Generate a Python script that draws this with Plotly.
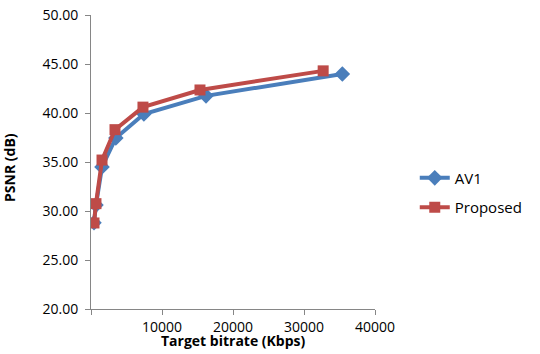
import plotly.graph_objects as go

av1_x = [420, 700, 1550, 3500, 7450, 16200, 35400]
av1_y = [28.8, 30.6, 34.5, 37.45, 39.9, 41.75, 43.98]
prop_x = [420, 700, 1550, 3380, 7320, 15350, 32700]
prop_y = [28.78, 30.75, 35.2, 38.3, 40.6, 42.35, 44.3]

x_ticks = [0, 10000, 20000, 30000, 40000]
x_ticktext = ["", "10000", "20000", "30000", "40000"]
y_ticks = [20, 25, 30, 35, 40, 45, 50]

FONT = "Open Sans"
fig = go.Figure()
fig.add_trace(go.Scatter(x=av1_x, y=av1_y, name="AV1", mode="lines+markers", legendgroup="a",
                         line=dict(color="#4A7EBB", width=4),
                         marker=dict(symbol="diamond", size=12, color="#4A7EBB")))
fig.add_trace(go.Scatter(x=prop_x, y=prop_y, name="Proposed", mode="lines+markers", legendgroup="b",
                         line=dict(color="#BE4B48", width=4),
                         marker=dict(symbol="square", size=11, color="#BE4B48")))

fig.update_layout(
    template="none",
    width=540, height=354,
    margin=dict(l=91, r=165, t=15, b=45, autoexpand=False),
    paper_bgcolor="white", plot_bgcolor="white",
    font=dict(family=FONT, size=14, color="#000000"),
    showlegend=True,
    legend=dict(x=1.14, y=0.396, xanchor="left", yanchor="middle",
                font=dict(family=FONT, size=15), tracegroupgap=7,
                bgcolor="rgba(0,0,0,0)", borderwidth=0),
    xaxis=dict(range=[0, 40000], tickvals=x_ticks, ticktext=x_ticktext, automargin=False,
               showgrid=False, zeroline=False, showline=True, linecolor="#868686", linewidth=1,
               ticks="outside", ticklen=5, tickcolor="#868686", tickwidth=1,
               tickfont=dict(family=FONT, size=14)),
    yaxis=dict(range=[20, 50], tickvals=y_ticks, tickformat=".2f", automargin=False,
               showgrid=False, zeroline=False, showline=True, linecolor="#868686", linewidth=1,
               ticks="outside", ticklen=5, tickcolor="#868686", tickwidth=1,
               ticklabelstandoff=4,
               tickfont=dict(family=FONT, size=14)),
    annotations=[
        dict(text="<b>Target bitrate (Kbps)</b>", xref="paper", yref="paper",
             x=0.5, y=-0.108, xanchor="center", yanchor="middle", showarrow=False,
             font=dict(family=FONT, size=14)),
        dict(text="<b>PSNR (dB)</b>", xref="paper", yref="paper", textangle=-90,
             x=-0.285, y=0.48, xanchor="center", yanchor="middle", showarrow=False,
             font=dict(family=FONT, size=14)),
    ],
)
fig.write_html("out.html")
